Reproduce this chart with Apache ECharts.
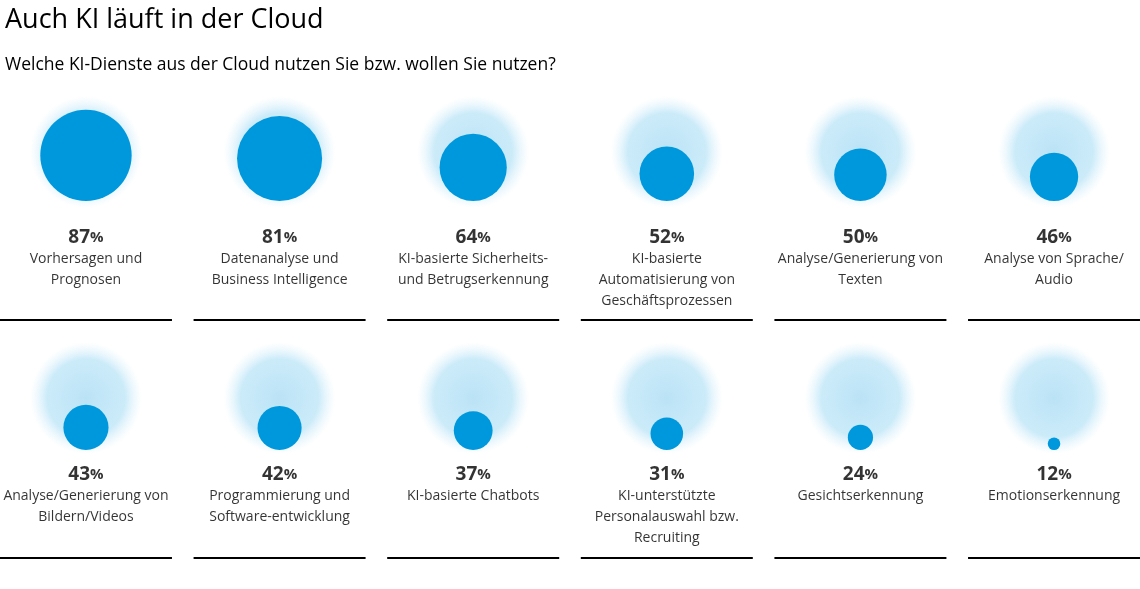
<!DOCTYPE html>
<html>
<head>
<meta charset="utf-8">
<script src="https://cdn.jsdelivr.net/npm/echarts@6/dist/echarts.min.js"></script>
<style>
  html, body { margin: 0; padding: 0; background: #fff; }
  #chart { width: 1140px; height: 589px; }
</style>
</head>
<body>
<div id="chart"></div>
<script>
var categories = [
    'Vorhersagen und\nPrognosen',
    'Datenanalyse und\nBusiness Intelligence',
    'KI-basierte Sicherheits-\nund Betrugserkennung',
    'KI-basierte\nAutomatisierung von\nGeschäftsprozessen',
    'Analyse/Generierung von\nTexten',
    'Analyse von Sprache/\nAudio',
    'Analyse/Generierung von\nBildern/Videos',
    'Programmierung und\nSoftware-entwicklung',
    'KI-basierte Chatbots',
    'KI-unterstützte\nPersonalauswahl bzw.\nRecruiting',
    'Gesichtserkennung',
    'Emotionserkennung'
];
var values = [87, 81, 64, 52, 50, 46, 43, 42, 37, 31, 24, 12];

// layout per row (pixel positions on the inverted y axis)
var circleBottom = [201, 450];
var haloCenter = [152, 398];
var textTop = [226, 463];
var lineY = [320, 558];

var FONT = '"Open Sans", "Noto Sans", sans-serif';
var blue = '#0098dc';

var solid = [], halo = [], texts = [], rules = [];
values.forEach(function (v, i) {
    var col = i % 6, row = Math.floor(i / 6);
    var d = v * 1.05;
    solid.push({ value: [col, circleBottom[row]], symbolSize: d, symbolOffset: [0, -d / 2] });
    halo.push({ value: [col, haloCenter[row]] });
    var lines = categories[i].split('\n').map(function (s) { return '{l|' + s + '}'; }).join('\n');
    texts.push({ value: [col, textTop[row]], label: { formatter: '{p|' + v + '}{s|%}\n' + lines } });
    rules.push({ value: [col, lineY[row]] });
});

var myChart = echarts.init(document.getElementById('chart'));
var option = {
    animation: false,
    title: [
        { text: 'Auch KI läuft in der Cloud', left: 0, top: 2,
          textStyle: { fontFamily: FONT, fontSize: 27, fontWeight: 'normal', color: '#000' } },
        { text: 'Welche KI-Dienste aus der Cloud nutzen Sie bzw. wollen Sie nutzen?', left: 0, top: 51,
          textStyle: { fontFamily: FONT, fontSize: 17.5, fontWeight: 'normal', color: '#000' } }
    ],
    grid: { left: 0, right: 0, top: 0, bottom: 0 },
    xAxis: { type: 'value', min: -0.444, max: 5.444, show: false },
    yAxis: { type: 'value', min: 0, max: 589, inverse: true, show: false },
    series: [
        {
            type: 'scatter', data: halo, symbolSize: 112, silent: true,
            itemStyle: {
                color: {
                    type: 'radial', x: 0.5, y: 0.5, r: 0.5,
                    colorStops: [
                        { offset: 0, color: 'rgba(160,216,242,0.9)' },
                        { offset: 0.7, color: 'rgba(175,224,246,0.8)' },
                        { offset: 1, color: 'rgba(210,238,250,0)' }
                    ]
                }
            }
        },
        { type: 'scatter', data: solid, itemStyle: { color: blue, opacity: 1 } },
        {
            type: 'scatter', data: texts, symbolSize: 1, silent: true,
            itemStyle: { color: 'rgba(0,0,0,0)' },
            label: {
                show: true, position: 'bottom', distance: 0, align: 'center', color: '#000',
                rich: {
                    p: { fontFamily: FONT, fontSize: 19, fontWeight: 'bold', color: '#000', lineHeight: 22 },
                    s: { fontFamily: FONT, fontSize: 15, fontWeight: 'bold', color: '#000', lineHeight: 22 },
                    l: { fontFamily: FONT, fontSize: 14, color: '#000', lineHeight: 21 }
                }
            }
        },
        {
            type: 'scatter', data: rules, symbol: 'rect', symbolSize: [172, 2],
            itemStyle: { color: '#000', opacity: 1 }
        }
    ]
};
myChart.setOption(option, true);
</script>
</body>
</html>
